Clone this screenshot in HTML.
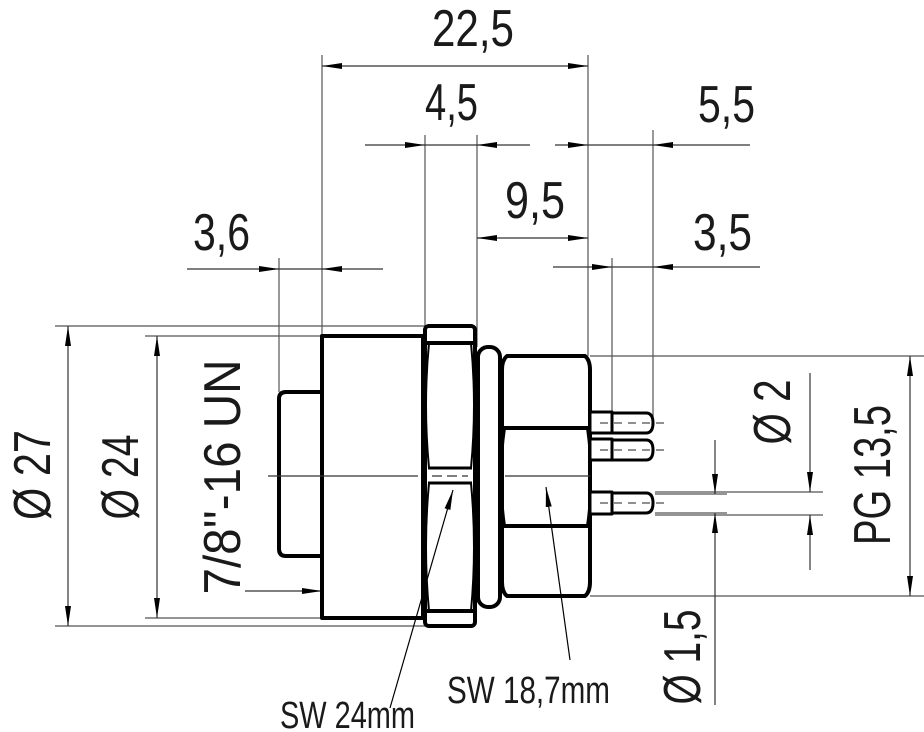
<!DOCTYPE html>
<html><head><meta charset="utf-8"><style>
html,body{margin:0;padding:0;background:#fff;}
svg{display:block;}
text{font-family:"Liberation Sans Narrow","Liberation Sans",sans-serif;fill:#1a1a1a;}
</style></head><body>
<svg width="924" height="732" viewBox="0 0 924 732" xmlns="http://www.w3.org/2000/svg">
<defs>
<marker id="a" viewBox="0 0 20 8" refX="20" refY="4" markerWidth="20" markerHeight="8" markerUnits="userSpaceOnUse" orient="auto-start-reverse">
<path d="M0,1 L20,4 L0,7 Z" fill="#000"/></marker>
</defs>
<g stroke="#555" stroke-width="1.2" fill="none">
<line x1="322" y1="55" x2="322" y2="336"/>
<line x1="588" y1="55" x2="588" y2="356"/>
<line x1="425" y1="135" x2="425" y2="326"/>
<line x1="477" y1="135" x2="477" y2="347"/>
<line x1="653" y1="130" x2="653" y2="420"/>
<line x1="612" y1="258" x2="612" y2="420"/>
<line x1="279" y1="258" x2="279" y2="392"/>
<line x1="55" y1="326" x2="425" y2="326"/>
<line x1="55" y1="626" x2="425" y2="626"/>
<line x1="145" y1="336" x2="322" y2="336"/>
<line x1="145" y1="618" x2="322" y2="618"/>
<line x1="590" y1="356" x2="924" y2="356"/>
<line x1="590" y1="596" x2="924" y2="596"/>
<line x1="655" y1="492" x2="823" y2="492"/>
<line x1="655" y1="515" x2="823" y2="515"/>
<line x1="655" y1="494" x2="727" y2="494"/>
<line x1="655" y1="513" x2="727" y2="513"/>
</g>
<g stroke="#333" stroke-width="1.2" fill="none">
<line x1="322" y1="66" x2="588" y2="66" marker-start="url(#a)" marker-end="url(#a)"/>
<line x1="365" y1="145" x2="425" y2="145" marker-end="url(#a)"/>
<line x1="530" y1="145" x2="477" y2="145" marker-end="url(#a)"/>
<line x1="425" y1="145" x2="477" y2="145"/>
<line x1="555" y1="145" x2="588" y2="145" marker-end="url(#a)"/>
<line x1="750" y1="145" x2="653" y2="145" marker-end="url(#a)"/>
<line x1="588" y1="145" x2="653" y2="145"/>
<line x1="477" y1="238" x2="588" y2="238" marker-start="url(#a)" marker-end="url(#a)"/>
<line x1="553" y1="267" x2="612" y2="267" marker-end="url(#a)"/>
<line x1="760" y1="267" x2="653" y2="267" marker-end="url(#a)"/>
<line x1="612" y1="267" x2="653" y2="267"/>
<line x1="187" y1="269" x2="279" y2="269" marker-end="url(#a)"/>
<line x1="383" y1="269" x2="322" y2="269" marker-end="url(#a)"/>
<line x1="279" y1="269" x2="322" y2="269"/>
<line x1="68" y1="326" x2="68" y2="626" marker-start="url(#a)" marker-end="url(#a)"/>
<line x1="157" y1="336" x2="157" y2="618" marker-start="url(#a)" marker-end="url(#a)"/>
<line x1="245" y1="591" x2="322" y2="591" marker-end="url(#a)"/>
<line x1="910" y1="356" x2="910" y2="596" marker-start="url(#a)" marker-end="url(#a)"/>
<line x1="810" y1="373" x2="810" y2="492" marker-end="url(#a)"/>
<line x1="810" y1="570" x2="810" y2="515" marker-end="url(#a)"/>
<line x1="715" y1="440" x2="715" y2="494" marker-end="url(#a)"/>
<line x1="715" y1="705" x2="715" y2="513" marker-end="url(#a)"/>
</g>
<g stroke="#000" stroke-width="4" fill="#fff" stroke-linejoin="round">
<path d="M322,392 L286,392 Q279,392 279,399 L279,549 Q279,556 286,556 L322,556"/>
<rect x="322" y="336" width="101" height="282"/>
<rect x="425" y="326" width="50" height="300" rx="4"/>
<line x1="425" y1="343" x2="475" y2="343"/>
<line x1="425" y1="611" x2="475" y2="611"/>
<line x1="428" y1="468" x2="472" y2="468" stroke-width="3"/>
<line x1="428" y1="483" x2="472" y2="483" stroke-width="3"/>
<path d="M429,343 Q423,405 429,468 M471,343 Q477,405 471,468 M429,483 Q423,547 429,611 M471,483 Q477,547 471,611" fill="none" stroke-width="2"/>
<rect x="478" y="347" width="22" height="260" rx="10"/>
<path d="M507,356 L585,356 Q590,360 590,370 L590,582 Q590,592 585,596 L507,596 Q502,592 502,582 L502,370 Q502,360 507,356 Z"/>
<line x1="503" y1="428" x2="589" y2="428"/>
<line x1="503" y1="526" x2="589" y2="526"/>
<path d="M505,428 Q498,477 505,526 M587,428 Q594,477 587,526" fill="none" stroke-width="2"/>
<g stroke-width="3">
<rect x="590" y="412" width="22" height="21"/><path d="M612,413 L646,413 Q653,413 653,423 Q653,433 646,433 L612,433 Z"/>
<rect x="590" y="439" width="22" height="21"/><path d="M612,440 L646,440 Q653,440 653,450 Q653,460 646,460 L612,460 Z"/>
<rect x="590" y="492" width="22" height="22"/><path d="M612,493 L646,493 Q653,493 653,503 Q653,513 646,513 L612,513 Z"/>
</g>
</g>
<g stroke="#222" stroke-width="1" stroke-dasharray="8,6">
<line x1="600" y1="423" x2="665" y2="423"/><line x1="600" y1="450" x2="665" y2="450"/><line x1="600" y1="503" x2="665" y2="503"/>
</g>
<g stroke="#333" stroke-width="1.2" fill="none">
<line x1="268" y1="476" x2="418" y2="476"/>
<line x1="432" y1="476" x2="468" y2="476" stroke-dasharray="10,5"/>
<line x1="505" y1="476" x2="590" y2="476"/>
<line x1="390" y1="708" x2="453" y2="490" stroke="#000" marker-end="url(#a)"/>
<line x1="570" y1="660" x2="546" y2="487" stroke="#000" marker-end="url(#a)"/>
</g>
<g font-size="52">
<text x="432" y="46" textLength="82" lengthAdjust="spacingAndGlyphs">22,5</text>
<text x="425" y="120" textLength="53" lengthAdjust="spacingAndGlyphs">4,5</text>
<text x="698" y="122" textLength="57" lengthAdjust="spacingAndGlyphs">5,5</text>
<text x="505" y="218" textLength="60" lengthAdjust="spacingAndGlyphs">9,5</text>
<text x="693" y="250" textLength="59" lengthAdjust="spacingAndGlyphs">3,5</text>
<text x="193" y="250" textLength="57" lengthAdjust="spacingAndGlyphs">3,6</text>
<text transform="translate(50,475) rotate(-90)" text-anchor="middle" textLength="90" lengthAdjust="spacingAndGlyphs">Ø 27</text>
<text transform="translate(138,477) rotate(-90)" text-anchor="middle" textLength="85" lengthAdjust="spacingAndGlyphs">Ø 24</text>
<text transform="translate(240,477) rotate(-90)" text-anchor="middle" textLength="235" lengthAdjust="spacingAndGlyphs">7/8''-16 UN</text>
<text transform="translate(790,412) rotate(-90)" text-anchor="middle" textLength="65" lengthAdjust="spacingAndGlyphs">Ø 2</text>
<text transform="translate(890,475) rotate(-90)" text-anchor="middle" textLength="140" lengthAdjust="spacingAndGlyphs">PG 13,5</text>
<text transform="translate(700,657) rotate(-90)" text-anchor="middle" textLength="95" lengthAdjust="spacingAndGlyphs">Ø 1,5</text>
</g>
<g font-size="38">
<text x="280" y="728" textLength="135" lengthAdjust="spacingAndGlyphs">SW 24mm</text>
<text x="447" y="703" textLength="163" lengthAdjust="spacingAndGlyphs">SW 18,7mm</text>
</g>
</svg>
</body></html>
